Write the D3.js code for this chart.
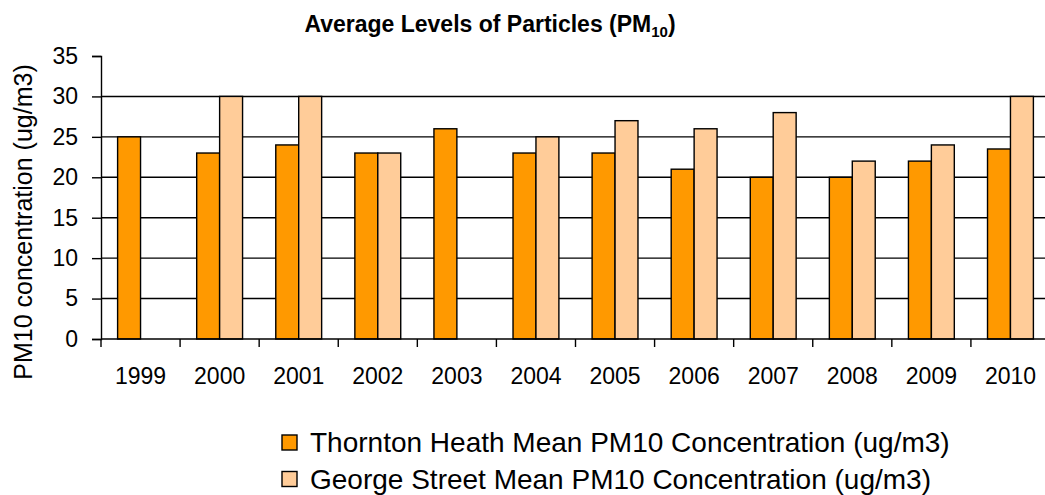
<!DOCTYPE html>
<html>
<head>
<meta charset="utf-8">
<script src="https://cdn.jsdelivr.net/npm/d3@7"></script>
<style>
  body { margin: 0; background: #fff; }
  text { font-family: Arial, "Liberation Sans", sans-serif; fill: #000; }
</style>
</head>
<body>
<div id="chart"></div>
<script>
let years = ['1999', '2000', '2001', '2002', '2003', '2004', '2005', '2006', '2007', '2008', '2009', '2010'];
let thornton = [25, 23, 24, 23, 26, 23, 23, 21, 20, 20, 22, 23.5];
let george = [null, 30, 30, 23, null, 25, 27, 26, 28, 22, 24, 30];
let series_names = [
  'Thornton Heath Mean PM10 Concentration (ug/m3)',
  'George Street Mean PM10 Concentration (ug/m3)'
];
let series_colors = ['#FF9900', '#FFCC99'];
let y_ticks = [0, 5, 10, 15, 20, 25, 30, 35];

let chart_width = 1045;
let chart_height = 495;

let svg = d3
  .select('#chart')
  .append('svg')
  .attr('width', chart_width)
  .attr('height', chart_height);

// plot area runs past the right edge, like the original picture
let x_scale = d3.scaleBand().domain(years).range([101, 1050]).padding(0);
let x_inner = d3
  .scaleBand()
  .domain([0, 1])
  .range([x_scale.bandwidth() * 0.21, x_scale.bandwidth() * 0.79]);
let y_scale = d3.scaleLinear().domain([0, 35]).range([339, 56]);

// gridlines
svg
  .append('g')
  .selectAll('line')
  .data(y_ticks.filter(d => d > 0 && d < 35))
  .enter()
  .append('line')
  .attr('x1', 101)
  .attr('x2', 1050)
  .attr('y1', d => y_scale(d))
  .attr('y2', d => y_scale(d))
  .attr('stroke', '#000')
  .attr('stroke-width', 1.4);

// bars
let rows = years.map((y, i) => [thornton[i], george[i]]);
let groups = svg
  .append('g')
  .selectAll('g')
  .data(rows)
  .enter()
  .append('g')
  .attr('transform', (d, i) => 'translate(' + x_scale(years[i]) + ',0)');
groups
  .selectAll('rect')
  .data(d => d.map((v, j) => ({ v: v, j: j })).filter(e => e.v != null))
  .enter()
  .append('rect')
  .attr('x', d => x_inner(d.j))
  .attr('width', x_inner.bandwidth())
  .attr('y', d => y_scale(d.v))
  .attr('height', d => y_scale(0) - y_scale(d.v))
  .attr('fill', d => series_colors[d.j])
  .attr('stroke', '#000')
  .attr('stroke-width', 1.4);

// y axis
let y_axis = d3.axisLeft(y_scale).tickValues(y_ticks).tickSize(9).tickPadding(14);
let yg = svg
  .append('g')
  .attr('transform', 'translate(101,0)')
  .call(y_axis);
yg.select('.domain').attr('stroke', '#000').attr('stroke-width', 1.4);
yg.selectAll('.tick line').attr('stroke', '#000').attr('stroke-width', 1.4);
yg.selectAll('.tick text')
  .style('font-size', '23px')
  .style('font-family', 'Arial, "Liberation Sans", sans-serif');

// x axis line and boundary ticks
svg
  .append('line')
  .attr('x1', 101)
  .attr('x2', 1050)
  .attr('y1', y_scale(0))
  .attr('y2', y_scale(0))
  .attr('stroke', '#000')
  .attr('stroke-width', 1.4);
svg
  .append('g')
  .selectAll('line')
  .data(years)
  .enter()
  .append('line')
  .attr('x1', d => x_scale(d))
  .attr('x2', d => x_scale(d))
  .attr('y1', y_scale(0))
  .attr('y2', y_scale(0) + 8)
  .attr('stroke', '#000')
  .attr('stroke-width', 1.4);

// x labels
let x_axis = d3.axisBottom(x_scale).tickSize(0).tickPadding(0);
let xg = svg
  .append('g')
  .attr('transform', 'translate(0,' + y_scale(0) + ')')
  .call(x_axis);
xg.select('.domain').remove();
xg.selectAll('.tick text')
  .attr('dy', null)
  .attr('y', 45)
  .style('font-size', '23px')
  .style('font-family', 'Arial, "Liberation Sans", sans-serif');

// y title
svg
  .append('text')
  .attr('transform', 'translate(32,222) rotate(-90)')
  .attr('text-anchor', 'middle')
  .style('font-size', '25px')
  .text('PM10 concentration (ug/m3)');

// title
let title = svg
  .append('text')
  .attr('x', 490)
  .attr('y', 32)
  .attr('text-anchor', 'middle')
  .style('font-size', '23px')
  .style('font-weight', 'bold');
title.append('tspan').text('Average Levels of Particles (PM');
title.append('tspan').attr('dy', 5).style('font-size', '15px').text('10');
title.append('tspan').attr('dy', -5).text(')');

// legend
let legend = svg
  .append('g')
  .selectAll('g')
  .data(series_names)
  .enter()
  .append('g')
  .attr('transform', (d, i) => 'translate(282,' + (435 + i * 36.5) + ')');
legend
  .append('rect')
  .attr('width', 15)
  .attr('height', 15)
  .attr('fill', (d, i) => series_colors[i])
  .attr('stroke', '#000')
  .attr('stroke-width', 1.4);
legend
  .append('text')
  .attr('x', 28)
  .attr('y', 17)
  .style('font-size', '28px')
  .text(d => d);
</script>
</body>
</html>
